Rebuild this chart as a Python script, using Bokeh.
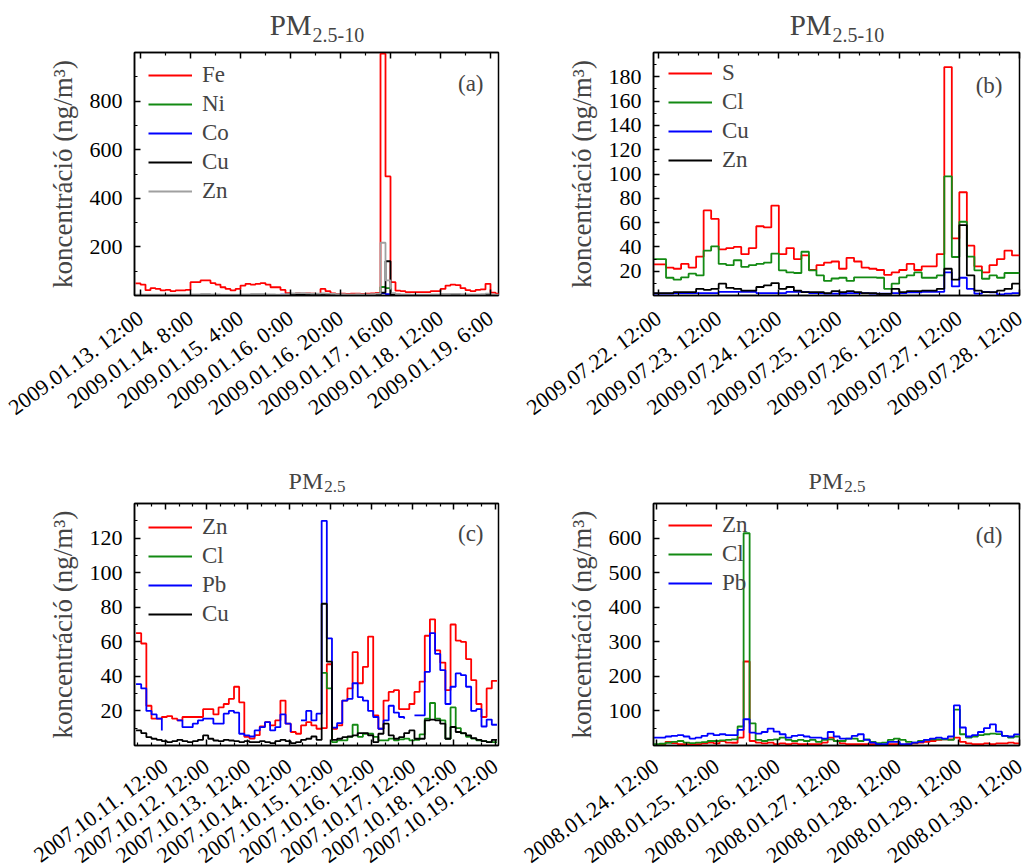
from bokeh.plotting import figure
from bokeh.models import Range1d, FixedTicker, LinearAxis, Legend, LegendItem, Label
from bokeh.layouts import column, row
from bokeh.embed import file_html
from bokeh.resources import INLINE
import math

NA = float("nan")
FONT = "Liberation Serif"

# ---------------- panel (a): PM2.5-10, 2009.01, 2 h bins ----------------
A_NAMES = ["Fe", "Ni", "Co", "Cu", "Zn"]
A_FE = [50, 45, 22, 30, 27, 21, 23, 18, 21, 21,
        23, 55, 55, 62, 62, 51, 45, 34, 27, 21,
        27, 41, 48, 45, 48, 51, 45, 34, 34, 23,
        10, 7, 9, 8, 9, 8, 7, 27, 18, 9,
        7, 8, 7, 8, 8, 7, 8, 9, 11, 995,
        490, 55, 20, 18, 14, 14, 14, 14, 14, 18,
        18, 27, 41, 45, 43, 30, 22, 18, 23, 25,
        48, 12, 8]
A_NI = [1, 1, 0.8, 0.8, 0.8, 1, 1, 0.8, 0.8, 1,
        1, 1.2, 1.2, 1.5, 1.5, 1.2, 1, 1, 0.8, 0.8,
        1, 1.2, 1.2, 1.4, 1.4, 1.4, 1.2, 1, 1, 1,
        1.5, 2, 2, 2, 1.8, 1.5, 1.5, 3, 2, 1.5,
        1.2, 1, 1, 1.2, 1, 1, 1.2, 1.5, 2, 35,
        30, 2, 1.5, 1.2, 1, 1, 1, 1, 1, 1.2,
        1.2, 1.5, 1.5, 1.8, 1.5, 1.2, 1, 1, 1, 1.2,
        1.5, 1, 1]
A_CO = [0.8, 0.6, 0.5, 0.5, 0.6, 0.6, 0.5, 0.5, 0.5, 0.6,
        0.6, 0.8, 0.8, 1, 1, 0.8, 0.7, 0.6, 0.5, 0.5,
        0.6, 0.8, 0.9, 1, 1, 1, 0.9, 0.8, 2.5, 3,
        2.5, 1.5, 1.2, 1, 1, 1, 1.2, 1.5, 1.2, 1,
        1, 0.8, 0.8, 1, 0.8, 0.8, 1, 1.2, 2, 10,
        6, 1.5, 1, 0.8, 0.8, 0.7, 0.7, 0.7, 0.7, 0.8,
        0.8, 1, 1, 1.2, 1, 0.9, 0.8, 0.8, 0.8, 1,
        1.5, 2, 1]
A_CU = [2, 2, 1.5, 1.5, 1.5, 2, 2, 1.5, 1.5, 2,
        2, 2.5, 2.5, 3, 3, 2.5, 2, 2, 1.5, 1.5,
        2, 2.5, 2.5, 3, 3, 3, 2.5, 2, 2, 2,
        3, 4, 4, 4, 3.5, 3, 3, 3.5, 3, 2.5,
        2.5, 2, 2, 2.5, 2, 2, 2.5, 3, 4, 12,
        141, 5, 3, 2.5, 2, 2, 2, 2, 2, 2.5,
        2.5, 3, 3, 3.5, 3, 2.5, 2, 2, 2, 2.5,
        3, 2, 2]
A_ZN = [4, 4, 3, 3, 3, 4, 4, 3, 3, 4,
        4, 5, 5, 6, 6, 5, 5, 4, 4, 3,
        4, 5, 5, 6, 6, 6, 5, 5, 4, 4,
        6, 9, 10, 10, 9, 8, 8, 9, 8, 7,
        6, 6, 5, 5, 6, 5, 5, 6, 8, 217,
        62, 10, 6, 5, 5, 4, 4, 4, 4, 5,
        5, 6, 6, 7, 7, 6, 5, 5, 5, 6,
        8, 5, 4]
A_START_H = -2      # hours relative to 2009.01.13. 12:00
A_STEP_H = 2
A_TICK_H = [0, 20, 40, 60, 80, 100, 120, 140]
A_TICK_LABELS = ["2009.01.13. 12:00", "2009.01.14. 8:00", "2009.01.15. 4:00",
                 "2009.01.16. 0:00", "2009.01.16. 20:00", "2009.01.17. 16:00",
                 "2009.01.18. 12:00", "2009.01.19. 6:00"]
A_YTICKS = [200, 400, 600, 800]

# ---------------- panel (b): PM2.5-10, 2009.07, 3 h bins ----------------
B_NAMES = ["S", "Cl", "Cu", "Zn"]
B_S = [25.6, 25.6, 23, 22, 26, 23, 32, 70, 63, 38, 39,
       40, 34, 39, 57, 56, 74, 34, 39, 30, 33,
       21, 25, 27, 28, 22, 31, 28, 23, 22, 21,
       17, 19, 21, 26, 21, 24, 24, 34, 188, 47,
       85, 41, 24, 19, 25, 30, 37, 33]
B_CL = [30, 30, 14.6, 13, 15, 18, 16.5, 37, 40.5, 26, 25,
        29, 23.5, 25, 26, 27, 34.5, 20.7, 19, 18.5, 36,
        20.7, 16.5, 12, 14, 14.6, 12, 15, 15, 15, 14.6,
        5.5, 9.7, 15, 16.5, 19, 14.6, 14.6, 16.5, 98, 31.7,
        60.7, 32, 20.7, 13.8, 16.5, 14.6, 18.5, 18.5]
B_CU = [1.5, 1.5, 1.5, 2, 2, 2, 2, 2, 2, 3, 3,
        3, 3, 3, 2, 2, 2, 2, 3, 3, 3,
        2, 2, 1.5, 1.5, 1.5, 2, 2, 2, 1.5, 1.5,
        1.5, 2, 2, 2.5, 2.5, 3, 3, 3, 19, 7.5,
        14.6, 5.5, 1.5, 3, 2.5, 1, 1.5, 2]
B_ZN = [2, 2, 2, 2.8, 2.8, 2.8, 5.5, 4.7, 5.5, 9.7, 6.3,
        5.5, 4, 4, 7, 8.3, 10.2, 5.5, 7, 4, 2.8,
        2.8, 2.8, 2, 3.6, 2.8, 3.6, 2.8, 2, 2, 1.4,
        1.4, 5.5, 2.8, 3.6, 3.6, 4, 4, 5.5, 22, 13,
        58, 16.5, 4, 2.8, 2.8, 4, 5.5, 9.7]
B_START_H = -3      # hours relative to 2009.07.22. 12:00
B_STEP_H = 3
B_TICK_H = [0, 24, 48, 72, 96, 120, 144]
B_TICK_LABELS = ["2009.07.22. 12:00", "2009.07.23. 12:00", "2009.07.24. 12:00",
                 "2009.07.25. 12:00", "2009.07.26. 12:00", "2009.07.27. 12:00",
                 "2009.07.28. 12:00"]
B_YTICKS = [20, 40, 60, 80, 100, 120, 140, 160, 180]

# ---------------- panel (c): PM2.5, 2007.10, 3 h bins ----------------
C_NAMES = ["Zn", "Cl", "Pb", "Cu"]
C_ZN = [65, 59, 23, 15.5, 15.5, 16.5, 17, 15.5, 14.5, 16.5,
        16.5, 16.5, 16.5, 21, 21, 18, 22, 24, 27, 34,
        25, 5, 4, 6, 11, 13.5, 11.6, 14.5, 26, 12.6,
        7.8, 6.8, 11.6, 13.5, 11.6, 9.7, 10, 47, 9.7, 11.6,
        26, 33, 54, 36, 45.5, 63, 17.4, 9.7, 26, 31,
        32, 21, 21, 24, 31, 37, 63.5, 73, 55, 48,
        32, 70, 60.7, 60, 50, 37.8, 24, 16.5, 33, 37.4]
C_CL = [NA, NA, NA, NA, NA, NA, NA, NA, NA, NA,
        NA, NA, NA, NA, NA, NA, NA, NA, NA, NA,
        NA, NA, NA, NA, NA, NA, NA, NA, NA, NA,
        NA, NA, NA, NA, NA, NA, 42, 33, 2, 3,
        3, 5, 12, 5, 6.8, 6.8, 5, 3, 3, 4,
        3, 3.5, 4, 3, 3.3, 6.4, 15.5, 24.6, 15.5, 14.5,
        3.9, 22, 10, 7, 5, 4, 3, 2.5, 2, 2]
C_PB = [35.5, 33, 20, 18, 15.5, 8.7, NA, NA, 14.5, 10.6,
        10.6, 12.6, 14.5, 15.5, 15.5, 12.6, 12.6, 18.4, 20, 19,
        6.8, 5.8, 5.2, 8.7, 10.6, 13.5, 8.7, 10.6, 18, 12.6,
        7.8, NA, 14.5, 20, 14.5, 18.4, 130, 62, 10.3, 13,
        26, 27, 36, 28, 26, 20, 16.5, 9.7, 14.5, 23,
        19, 16.5, 15.5, NA, 17.4, 17.4, 42.6, 65, 53, 43.6,
        24, 34, 41.7, 40.7, 34, 20, 21, 11, 15, 12]
C_CU = [8.7, 7.2, 4.8, 3.9, 3.3, 2.5, 2, 2.5, 3.3, 2.5,
        2, 2.5, 3.3, 5.8, 3.9, 2.9, 2.5, 3.3, 2.9, 2.5,
        2, 2.5, 2, 2, 2.5, 2, 1.4, 2.5, 3.3, 2.5,
        1.4, 2, 3.3, 3.9, 5.2, 3.3, 82, 48.5, 3.3, 3.9,
        4.8, 5.2, 5.8, 7.2, 7.2, 5.8, 2, 6.8, 12.6, 5.8,
        3.9, 4.8, 7.2, 8.7, 3.9, 3.9, 14.5, 15, 14.5, 12.6,
        3.9, 10.7, 7.8, 7.2, 5.8, 4.3, 3.3, 2.5, 2, 3.3]
C_START_H = -17     # hours relative to 2007.10.11. 12:00
C_STEP_H = 3
C_TICK_H = [0, 24, 48, 72, 96, 120, 144, 168, 192]
C_TICK_LABELS = ["2007.10.11. 12:00", "2007.10.12. 12:00", "2007.10.13. 12:00",
                 "2007.10.14. 12:00", "2007.10.15. 12:00", "2007.10.16. 12:00",
                 "2007.10.17. 12:00", "2007.10.18. 12:00", "2007.10.19. 12:00"]
C_YTICKS = [20, 40, 60, 80, 100, 120]

# ---------------- panel (d): PM2.5, 2008.01 ----------------
D_NAMES = ["Zn", "Cl", "Pb"]
D_ZN = [1, 3, 10.5, 7, 4, 4, 4, 4, 6, 8.6,
        6, 13, 8.6, 8, 23, 243, 13, 8.6, 6, 8.6,
        4, 6, 4, 6, 4, 4, 4, 4, 8.6, 23,
        13, 6, 4, 4, 4, 4, 4, 1, 1, 4,
        4, 1, 4, 6, 8.6, 10.5, 13, 16, 18, 18,
        23, 10.5, 6, 4, 4, 6, 4, 6, 6, 8.6,
        6]
D_CL = [4, 5, 8, 10.5, 13, 8.6, 7, 8.6, 10, 13,
        13, 15, 16, 18, 55, 614, 64, 16, 13, 16,
        18, 23, 16, 13, 16, 13, 16, 10.5, 16, 18,
        13, 13, 20, 20, 13, 18, 10.5, 7, 8.6, 16,
        20, 16, 10.5, 8.6, 13, 16, 18, 18, 18, 16,
        104, 32.5, 23, 26, 30, 32.5, 34.5, 33, 28, 23,
        26]
D_PB = [23, 23, 26, 28, 30, 26, 20, 23, 28, 34.5,
        30, 32.5, 30, 30, 45, 76, 37, 34.5, 39, 49,
        40, 32.5, 23, 28, 30, 26, 23, 23, 20, 39,
        26, 20, 20, 28, 32.5, 16, 8.6, 4, 4, 10.5,
        10.5, 4, 4, 8.6, 10.5, 16, 20, 23, 20, 26,
        116, 52, 26, 30, 39, 50, 61, 40, 28, 26,
        32]
D_START_H = -1      # hours relative to 2008.01.24. 12:00
D_STEP_H = 2.38
D_TICK_H = [0, 24, 48, 72, 96, 120, 144]
D_TICK_LABELS = ["2008.01.24. 12:00", "2008.01.25. 12:00", "2008.01.26. 12:00",
                 "2008.01.27. 12:00", "2008.01.28. 12:00", "2008.01.29. 12:00",
                 "2008.01.30. 12:00"]
D_YTICKS = [100, 200, 300, 400, 500, 600]

RED, GREEN, BLUE, BLACK, GRAY = "#ff0000", "#138a13", "#0000ff", "#000000", "#a0a0a0"
YLABEL = "koncentráció (ng/m³)"


def make_title(fw, h, bl, br, sub, big_size, sub_size, pm_mid, sub_mid):
    """Text-only strip holding 'PM' with its subscript; its frame has exactly the
    panel frame's width and the full strip height. Text middles are px from the strip top."""
    t = figure(title=None, frame_width=fw, frame_height=h, min_border_left=bl, min_border_right=br,
               min_border_top=0, min_border_bottom=0,
               x_range=Range1d(0, 1), y_range=Range1d(0, 1),
               x_axis_type=None, y_axis_type=None, output_backend="svg", toolbar_location=None)
    t.outline_line_color = None
    t.xgrid.visible = False
    t.ygrid.visible = False
    t.background_fill_color = "white"
    t.border_fill_color = "white"
    pm_w = 1.445 * big_size
    sub_w = (0.5 * sum(ch.isdigit() for ch in sub) + 0.25 * sub.count(".")
             + 0.333 * sub.count("-")) * sub_size
    junction = fw / 2 + (pm_w - sub_w) / 2
    t.add_layout(Label(x=junction, y=h - pm_mid, x_units="screen", y_units="screen",
                       text="PM", text_align="right", text_baseline="middle",
                       text_font=FONT, text_font_size=f"{big_size}px"))
    t.add_layout(Label(x=junction + 1, y=h - sub_mid, x_units="screen", y_units="screen",
                       text=sub, text_align="left", text_baseline="middle",
                       text_font=FONT, text_font_size=f"{sub_size}px"))
    return t


def make_panel(series, names, colors, start, step, xr, xticks, xlabels, xminor_step,
               yr, yticks, yminor_step, tag,
               fw, fh, bl, br, bt, bb, leg_xy, tag_dx, tag_dy, lab_standoff):
    p = figure(title=None, frame_width=fw, frame_height=fh,
               min_border_left=bl, min_border_right=br, min_border_top=bt, min_border_bottom=bb,
               x_range=Range1d(*xr), y_range=Range1d(*yr),
               x_axis_type=None, y_axis_type=None,
               output_backend="svg", toolbar_location=None)
    p.xgrid.visible = False
    p.ygrid.visible = False
    p.outline_line_color = "black"
    p.outline_line_width = 1.5
    p.background_fill_color = "white"
    p.border_fill_color = "white"

    xminor = []
    for t in xticks:
        k = 1
        while k * xminor_step < (xticks[1] - xticks[0]) - 0.01:
            xminor.append(t + k * xminor_step)
            k += 1
    xminor += [xticks[0] - k * xminor_step for k in range(1, 4)]
    xminor = [v for v in xminor if xr[0] < v < xr[1]]
    yminor = [v + yminor_step for v in [0] + yticks]
    xt = FixedTicker(ticks=xticks, minor_ticks=xminor)
    yt = FixedTicker(ticks=yticks, minor_ticks=yminor)

    def style(ax):
        ax.axis_line_color = "black"
        ax.axis_line_width = 1.5
        ax.major_tick_in = 6
        ax.major_tick_out = 0
        ax.minor_tick_in = 3
        ax.minor_tick_out = 0
        ax.major_tick_line_width = 1.5
        ax.minor_tick_line_width = 1.2
        ax.major_label_text_font = FONT
        ax.major_label_text_font_size = "22px"
        ax.major_label_text_color = "black"

    xb = LinearAxis(ticker=xt)
    style(xb)
    xb.major_label_overrides = {t: l for t, l in zip(xticks, xlabels)}
    xb.major_label_orientation = math.radians(36)
    xb.major_label_standoff = lab_standoff
    p.add_layout(xb, "below")

    xa = LinearAxis(ticker=xt)
    style(xa)
    xa.major_label_text_color = None
    xa.major_label_standoff = 0
    p.add_layout(xa, "above")

    yl = LinearAxis(ticker=yt)
    style(yl)
    yl.major_label_standoff = 12
    yl.axis_label = YLABEL
    yl.axis_label_text_font = FONT
    yl.axis_label_text_font_size = "27px"
    yl.axis_label_text_font_style = "normal"
    yl.axis_label_standoff = 9
    p.add_layout(yl, "left")

    rends = []
    for vals, c in zip(series, colors):
        n = len(vals)
        xs = [start + step * i for i in range(n + 1)]
        ys = list(vals) + [vals[-1]]
        rends.append(p.step(xs, ys, mode="after", line_color=c, line_width=1.8))

    items = [LegendItem(label=nm, renderers=[r]) for nm, r in zip(names, rends)]
    leg = Legend(items=items, location=leg_xy, padding=0, margin=0, spacing=3,
                 glyph_width=44, glyph_height=26, label_height=26, label_standoff=10,
                 label_text_font=FONT, label_text_font_size="23px",
                 border_line_color=None, background_fill_alpha=0)
    p.add_layout(leg)

    p.add_layout(Label(x=fw - tag_dx, y=fh - tag_dy, x_units="screen", y_units="screen",
                       text=tag, text_align="right", text_baseline="middle",
                       text_font=FONT, text_font_size="23px"))
    return p


# top row: title strip 0..46 px, frame 52..295
ta = make_title(364, 46, 134, 17, "2.5-10", 29, 20, 24, 34)
tb = make_title(366, 46, 138, 12, "2.5-10", 29, 20, 24, 34)
pa = make_panel([A_FE, A_NI, A_CO, A_CU, A_ZN], A_NAMES, [RED, GREEN, BLUE, BLACK, GRAY],
                A_START_H, A_STEP_H, (-2.4, 143.2), A_TICK_H, A_TICK_LABELS, 10,
                (0, 1000), A_YTICKS, 100, "(a)",
                364, 243, 134, 17, 6, 139, (14, 91), 15, 31, 20)
pb = make_panel([B_S, B_CL, B_CU, B_ZN], B_NAMES, [RED, GREEN, BLUE, BLACK],
                B_START_H, B_STEP_H, (-2, 144), B_TICK_H, B_TICK_LABELS, 8,
                (0, 200), B_YTICKS, 10, "(b)",
                366, 243, 138, 12, 6, 139, (15, 122), 17, 33, 20)
# bottom row: title strip 434..497 px, frame 503..745
tc = make_title(364, 63, 134, 17, "2.5", 24, 17, 46, 52)
td = make_title(366, 63, 138, 12, "2.5", 24, 17, 46, 52)
pc = make_panel([C_ZN, C_CL, C_PB, C_CU], C_NAMES, [RED, GREEN, BLUE, BLACK],
                C_START_H, C_STEP_H, (-17.9, 193.9), C_TICK_H, C_TICK_LABELS, 8,
                (0, 140), C_YTICKS, 10, "(c)",
                364, 242, 134, 17, 6, 123, (14, 118), 15, 30, 18)
pd_ = make_panel([D_ZN, D_CL, D_PB], D_NAMES, [RED, GREEN, BLUE],
                 D_START_H, D_STEP_H, (-1, 144), D_TICK_H, D_TICK_LABELS, 12,
                 (0, 700), D_YTICKS, 50, "(d)",
                 366, 242, 138, 12, 6, 123, (15, 149), 17, 32, 18)

layout = column(
    row(column(ta, pa, spacing=0), column(tb, pb, spacing=0), spacing=0),
    row(column(tc, pc, spacing=0), column(td, pd_, spacing=0), spacing=0),
    spacing=0)
open("out.html", "w").write(file_html(layout, INLINE))
